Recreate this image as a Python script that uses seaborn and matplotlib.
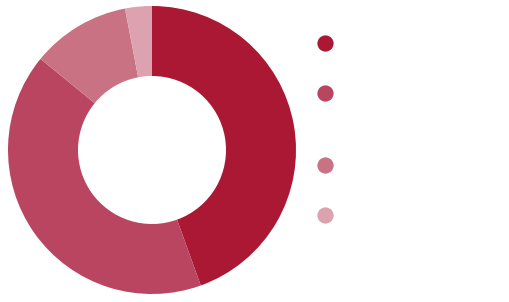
import matplotlib
matplotlib.use("Agg")
import matplotlib.pyplot as plt
from matplotlib.lines import Line2D
import seaborn as sns

categories = ["A", "B", "C", "D"]
values = [44.5, 41.4, 11.1, 3.0]
colors = ["#AA1834", "#BA4560", "#C97283", "#DDA2AF"]
legend_labels = ["", "", "", ""]

sns.set_theme(style="white")
plt.rcParams['font.family'] = ['DejaVu Sans']
palette = sns.color_palette(colors)

fig = plt.figure(figsize=(5.10, 3.02), dpi=100)
W, H = 510, 302
cx, cy, r = 152, 150, 144
ax = fig.add_axes([(cx - r) / W, (H - cy - r) / H, 2 * r / W, 2 * r / H])
ax.pie(values, colors=palette, startangle=90, counterclock=False, radius=1,
       wedgeprops=dict(width=70 / 144, linewidth=0))
ax.set_xlim(-1, 1)
ax.set_ylim(-1, 1)
ax.set_aspect("equal")
ax.axis("off")

# legend rows (layout positions in pixels from top)
row_y = [44, 94, 165.5, 216]
for c, lab, y in zip(palette, legend_labels, row_y):
    h = Line2D([0], [0], marker="o", linestyle="none", markersize=11.7,
               markerfacecolor=c, markeredgewidth=0)
    leg = fig.legend([h], [lab], loc="center left",
                     bbox_to_anchor=(317.5 / W, 1 - y / H), frameon=False,
                     fontsize=11, handletextpad=0.5, borderaxespad=0,
                     borderpad=0, handlelength=1.0)

fig.savefig("out.png", dpi=100)
